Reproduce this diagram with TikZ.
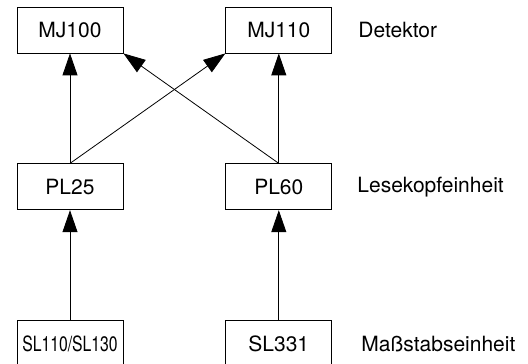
\documentclass[tikz,border=0pt]{standalone}
\usepackage{fontspec}
\setmainfont{TeX Gyre Heros}
\usepackage{graphicx}
\usetikzlibrary{arrows.meta, positioning}

\begin{document}
\begin{tikzpicture}[node distance=110pt and 102pt, x=1pt, y=1pt, font=\fontsize{21}{25}\selectfont]
	\tikzstyle{unit} = [draw, line width=0.8pt, minimum width=106pt, minimum height=46pt, inner sep=0pt]
	\tikzstyle{level} = [inner sep=0pt, anchor=west]
	\tikzstyle{feed} = [-{Triangle[length=22pt,width=15pt]}, line width=0.8pt]

	\useasboundingbox (0,0) rectangle (528,364);

	\path
		node[unit] at (70,334) (mj100) {MJ100}
		node[unit, right=of mj100] (mj110) {MJ110}
		node[unit, below=of mj100] (pl25) {PL25}
		node[unit, below=of mj110] (pl60) {PL60}
		node[unit, below=of pl25] (sl110) {\scalebox{0.75}[1]{SL110/SL130}}
		node[unit, below=of pl60] (sl331) {SL331}

		node[level, right=26pt of mj110] (detektor) {Detektor}
		node[level, right=25pt of pl60] (lesekopf) {Lesekopfeinheit}
		node[level, right=29pt of sl331] (massstab) {Maßstabseinheit}

		(pl25) edge[feed] (mj100)
		(pl60) edge[feed] (mj110)
		(pl25.north) edge[feed] (mj110.south west)
		(pl60.north) edge[feed] (mj100.south east)
		(sl110) edge[feed] (pl25)
		(sl331) edge[feed] (pl60)
	;
\end{tikzpicture}
\end{document}
